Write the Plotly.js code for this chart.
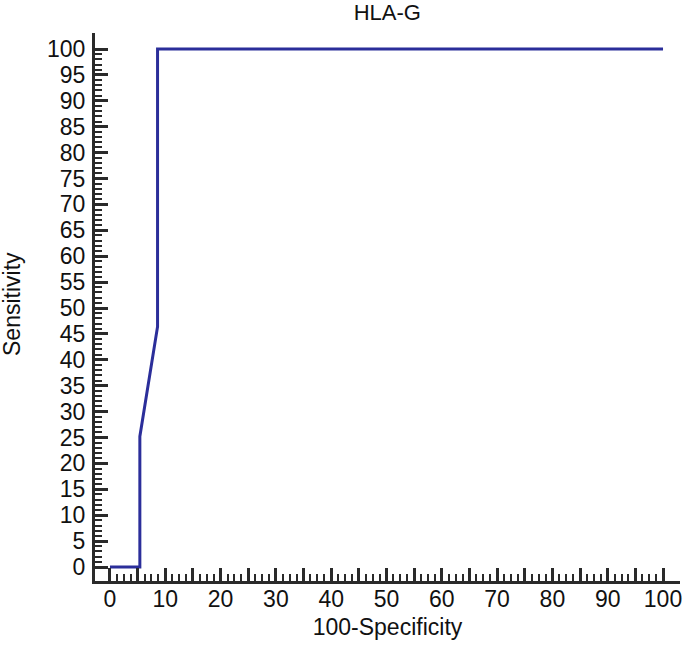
<!DOCTYPE html>
<html>
<head>
<meta charset="utf-8">
<script src="https://cdn.plot.ly/plotly-3.0.1.min.js"></script>
<style>html,body{margin:0;padding:0;background:#fff;}#chart{width:685px;height:646px;}</style>
</head>
<body>
<div id="chart"></div>
<script>
// ROC curve points for HLA-G
var specComplement = [0, 5.4, 5.4, 8.6, 8.6, 100];   // 100-Specificity
var sensitivity    = [0, 0, 25.2, 46.4, 100, 100];    // Sensitivity

var xTickVals = [0,5,10,15,20,25,30,35,40,45,50,55,60,65,70,75,80,85,90,95,100];
var xTickText = ['0','','10','','20','','30','','40','','50','','60','','70','','80','','90','','100'];
var yTickVals = [0,5,10,15,20,25,30,35,40,45,50,55,60,65,70,75,80,85,90,95,100];
var yTickText = ['0','5','10','15','20','25','30','35','40','45','50','55','60','65','70','75','80','85','90','95','100'];

// minor tick positions (axis decoration only, from 0 to 100)
var xMinor = [], yMinor = [];
for (var i = 0; i <= 80; i++) { if (i % 4) xMinor.push(i * 1.25); }
for (var j = 0; j <= 100; j++) { if (j % 5) yMinor.push(j); }

var axisColor = '#2a2a2a';
var fontFam = 'Liberation Sans, Arial, sans-serif';
var fs = 23;

var trace = {
  x: specComplement,
  y: sensitivity,
  mode: 'lines',
  line: {color: '#2B2E9A', width: 3},
  hoverinfo: 'x+y'
};

var layout = {
  width: 685, height: 646,
  margin: {l: 95, r: 5, t: 33, b: 65},
  paper_bgcolor: '#ffffff',
  plot_bgcolor: '#ffffff',
  showlegend: false,
  font: {family: fontFam, size: fs, color: '#111'},
  title: {text: 'HLA-G', font: {family: fontFam, size: 22, color: '#111'}, x: 0.5655, xanchor: 'center', y: 0.9815, yanchor: 'middle'},
  xaxis: {
    range: [-2.71, 103.07],
    showgrid: false, zeroline: false,
    showline: true, linecolor: axisColor, linewidth: 3,
    ticks: 'inside', ticklen: 13, tickwidth: 3, tickcolor: axisColor,
    tickmode: 'array', tickvals: xTickVals, ticktext: xTickText,
    tickfont: {family: fontFam, size: fs, color: '#111'},
    ticklabelstandoff: -5,
    minor: {tickmode: 'array', tickvals: xMinor, ticks: 'inside', ticklen: 7, tickwidth: 2, tickcolor: axisColor, showgrid: false},
    title: {text: '100-Specificity', font: {family: fontFam, size: fs, color: '#111'}, standoff: 9}
  },
  yaxis: {
    range: [-2.70, 103.09],
    showgrid: false, zeroline: false,
    showline: true, linecolor: axisColor, linewidth: 3,
    ticks: 'inside', ticklen: 13, tickwidth: 3, tickcolor: axisColor,
    tickmode: 'array', tickvals: yTickVals, ticktext: yTickText,
    tickfont: {family: fontFam, size: fs, color: '#111'},
    ticklabelstandoff: 2,
    minor: {tickmode: 'array', tickvals: yMinor, ticks: 'inside', ticklen: 7, tickwidth: 2, tickcolor: axisColor, showgrid: false}
  },
  annotations: [{
    text: 'Sensitivity', textangle: -90,
    xref: 'paper', yref: 'paper', x: 0, y: 0.5,
    xanchor: 'center', yanchor: 'middle', xshift: -83, yshift: 3,
    showarrow: false, font: {family: fontFam, size: fs, color: '#111'}
  }]
};

Plotly.newPlot('chart', [trace], layout, {displayModeBar: false, staticPlot: true});
</script>
</body>
</html>
